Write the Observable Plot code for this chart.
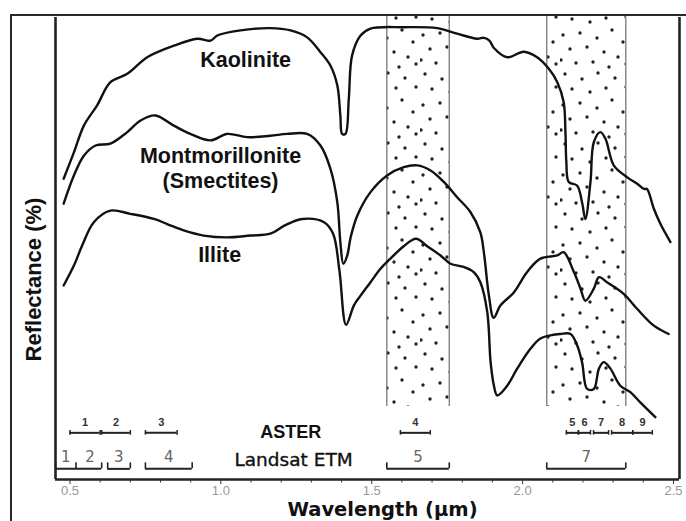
<!DOCTYPE html>
<html><head><meta charset="utf-8">
<script src="https://cdn.jsdelivr.net/npm/d3@7"></script>
<script src="https://cdn.jsdelivr.net/npm/@observablehq/plot@0.6"></script>
<style>
body{margin:0;background:#fff}
#wrap{position:relative;width:686px;height:521px;overflow:hidden;background:#fff}
#chart{position:absolute;left:0;top:0}
#frame{position:absolute;left:10px;top:14px;width:720px;height:600px;border-left:2.5px solid #2a2a2a;border-top:2.5px solid #2a2a2a;box-sizing:border-box;pointer-events:none}
</style></head><body>
<div id="wrap"><div id="chart"></div><div id="frame"></div></div>
<script>
// [wavelength (µm), reflectance (relative %)]
const kaolinite = [
[0.479,65.1],[0.513,70.8],[0.546,76.6],[0.590,81.0],[0.634,86.0],[0.690,87.8],[0.756,91.4],
[0.844,93.9],[0.922,95.4],[0.966,95.0],[0.988,96.1],[1.065,97.2],[1.164,97.7],[1.231,97.2],
[1.286,95.7],[1.330,92.5],[1.363,89.6],[1.386,85.3],[1.396,78.8],[1.402,74.8],[1.413,74.8],
[1.424,82.4],[1.435,91.8],[1.463,96.1],[1.496,97.6],[1.606,97.9],[1.717,97.7],[1.783,96.5],
[1.849,95.4],[1.872,95.6],[1.890,95.0],[1.905,93.4],[1.949,91.4],[2.004,92.6],[2.048,91.4],[2.087,88.9],
[2.115,86.0],[2.136,81.7],[2.142,75.2],[2.145,68.7],[2.153,64.4],[2.181,63.6],[2.197,60.0],
[2.208,56.4],[2.225,64.4],[2.236,73.0],[2.258,75.2],[2.275,73.7],[2.302,68.0],[2.347,65.4],
[2.380,64.0],[2.402,62.9],[2.412,62.9],[2.435,58.6],[2.457,55.3],[2.490,51.4]
];
const montmorillonite = [
[0.479,59.7],[0.513,65.8],[0.546,70.1],[0.585,72.3],[0.634,72.7],[0.690,75.2],[0.734,77.7],
[0.783,78.8],[0.844,76.6],[0.899,74.8],[0.966,73.4],[1.021,74.8],[1.087,74.1],[1.164,74.4],
[1.220,74.8],[1.286,74.8],[1.330,72.3],[1.363,67.3],[1.386,60.0],[1.396,51.4],[1.406,46.7],
[1.419,48.5],[1.430,52.4],[1.452,57.1],[1.496,62.2],[1.551,65.8],[1.606,67.6],[1.651,68.0],
[1.695,66.9],[1.739,64.4],[1.783,61.1],[1.827,57.9],[1.860,53.5],[1.872,49.0],[1.888,40.0],
[1.904,35.0],[1.927,37.7],[1.971,40.5],[2.015,44.9],[2.059,47.8],[2.115,48.5],[2.136,49.2],
[2.170,44.9],[2.192,41.3],[2.208,38.7],[2.236,41.3],[2.253,43.8],[2.280,42.7],[2.335,40.2],
[2.380,36.9],[2.435,33.3],[2.484,31.5]
];
const illite = [
[0.479,42.0],[0.513,46.3],[0.540,50.6],[0.579,55.7],[0.634,58.2],[0.700,57.5],[0.778,56.4],
[0.822,55.3],[0.877,53.9],[0.943,52.8],[1.021,52.4],[1.098,52.8],[1.164,53.2],[1.212,55.0],
[1.270,56.4],[1.342,55.7],[1.372,53.2],[1.393,45.2],[1.415,33.5],[1.441,37.7],[1.463,39.8],
[1.496,42.7],[1.529,45.6],[1.562,47.8],[1.606,50.5],[1.647,52.1],[1.684,50.5],[1.728,48.5],
[1.761,46.7],[1.805,46.0],[1.838,44.9],[1.860,42.7],[1.883,36.2],[1.894,25.4],[1.905,20.3],
[1.916,18.2],[1.949,20.3],[1.982,24.0],[2.026,28.3],[2.059,30.5],[2.092,31.2],[2.125,31.5],
[2.159,31.5],[2.181,29.0],[2.197,25.4],[2.214,19.6],[2.236,19.6],[2.253,24.0],[2.269,25.4],
[2.291,24.0],[2.324,20.3],[2.357,18.9],[2.390,16.7],[2.440,13.5]
];
const curveLabels = [
  {text:"Kaolinite", wl:1.082, r:90.7},
  {text:"Montmorillonite", wl:0.999, r:70.1},
  {text:"(Smectites)", wl:0.999, r:64.5},
  {text:"Illite", wl:0.996, r:48.5}
];
// stippled windows (Landsat bands 5 and 7)
const windows = [{lo:1.55, hi:1.757},{lo:2.08, hi:2.342}];
const asterBands = [
  {b:"1",lo:0.50,hi:0.60},{b:"2",lo:0.605,hi:0.70},{b:"3",lo:0.75,hi:0.855},{b:"4",lo:1.595,hi:1.694},
  {b:"5",lo:2.145,hi:2.185},{b:"6",lo:2.185,hi:2.225},{b:"7",lo:2.235,hi:2.285},{b:"8",lo:2.295,hi:2.365},{b:"9",lo:2.365,hi:2.43}
];
const landsatBrackets = [
  {lo:0.452,hi:0.605},{lo:0.625,hi:0.70},{lo:0.75,hi:0.905},{lo:1.55,hi:1.757},{lo:2.08,hi:2.342}
];
const landsatTicks = [0.452,0.52,0.605,0.625,0.70,0.75,0.905,1.55,1.757,2.08,2.342];
const landsatLabels = [
  {b:"1",wl:0.486},{b:"2",wl:0.566},{b:"3",wl:0.662},{b:"4",wl:0.827},{b:"5",wl:1.653},{b:"7",wl:2.211}
];
const sensorLabels = [{text:"ASTER", wl:1.232, r:10.2, bold:true},{text:"Landsat ETM", wl:1.241, r:4.1, bold:false}];
const majorTicks = [0.5,1.0,1.5,2.0,2.5];
const minorTicks = [0.6,0.7,0.8,0.9,1.1,1.2,1.3,1.4,1.6,1.7,1.8,1.9,2.1,2.2,2.3,2.4];
const stippleDots = [[5,4],[22,9],[38,3],[55,8],[66,17],[12,19],[30,22],[46,18],[3,35],[20,33],[37,38],[52,30],
  [63,42],[10,49],[27,47],[44,52],[58,57],[16,63],[33,62],[49,67],[66,64],[1,60]];

const curves = [["Kaolinite",kaolinite],["Montmorillonite",montmorillonite],["Illite",illite]];
const lineData = curves.flatMap(([name,pts]) => pts.map(([wl,r]) => ({mineral:name, wl, r})));

const X0 = 0.452, X1 = 2.52;
const SANS = "'Liberation Sans', Arial, sans-serif";
const plot = Plot.plot({
  width:686, height:521, marginLeft:55, marginRight:7, marginTop:17, marginBottom:42,
  x:{domain:[X0,X1], label:null},
  y:{domain:[0,100], axis:null},
  style:{fontFamily:SANS, background:"transparent", overflow:"visible", color:"#111"},
  marks:[
    Plot.rect(windows, {x1:"lo", x2:"hi", y1:()=>15.8, y2:()=>100.4, fill:"url(#stipple)"}),
    Plot.ruleX(windows.flatMap(d=>[d.lo,d.hi]), {x:d=>d, y1:()=>15.8, y2:()=>100.4, stroke:"#777", strokeWidth:1.3}),
    Plot.line(lineData, {x:"wl", y:"r", z:"mineral", stroke:"#111", strokeWidth:2.4, curve:"catmull-rom"}),
    Plot.text(curveLabels, {x:"wl", y:"r", text:"text", fontSize:21.5, fontWeight:"bold", fill:"#111"}),
    // ASTER row
    Plot.ruleY(asterBands, {x1:"lo", x2:"hi", y:()=>10.1, stroke:"#222", strokeWidth:2}),
    Plot.ruleX(asterBands.flatMap(d=>[d.lo,d.hi]), {x:d=>d, y1:()=>9.6, y2:()=>10.6, stroke:"#222", strokeWidth:1.5}),
    Plot.text(asterBands, {x:d=>(d.lo+d.hi)/2, y:()=>12.4, text:"b", fontSize:11, fontWeight:"bold", fill:"#333"}),
    // Landsat row
    Plot.ruleY(landsatBrackets, {x1:"lo", x2:"hi", y:()=>2.3, stroke:"#222", strokeWidth:2}),
    Plot.ruleX(landsatTicks, {x:d=>d, y1:()=>2.3, y2:()=>3.6, stroke:"#222", strokeWidth:1.6}),
    Plot.text(landsatLabels, {x:"wl", y:()=>4.9, text:"b", fontSize:15, fill:"#666", fontFamily:"DejaVu Sans"}),
    Plot.text(sensorLabels.filter(d=>d.bold), {x:"wl", y:"r", text:"text", fontSize:18, fontWeight:"bold", fill:"#111"}),
    Plot.text(sensorLabels.filter(d=>!d.bold), {x:"wl", y:"r", text:"text", fontSize:18.5, fill:"#111", stroke:"#111", strokeWidth:0.35, fontFamily:"DejaVu Sans"}),
    // axes frame
    Plot.ruleX([X0, X1], {x:d=>d, y1:()=>0, y2:()=>100, stroke:"#222", strokeWidth:2.6}),
    Plot.ruleY([0], {y:d=>d, x1:()=>X0, x2:()=>X1, stroke:"#222", strokeWidth:2.6}),
    Plot.axisX(majorTicks, {tickSize:5, tickPadding:1, tickFormat:d3.format(".1f"), stroke:"#333", fill:"#999", fontSize:13, label:null}),
    Plot.axisX(minorTicks, {tickSize:3.5, tickFormat:()=>"", stroke:"#333", label:null}),
    Plot.text(["Wavelength (µm)"], {text:d=>d, frameAnchor:"bottom", textAnchor:"middle", lineAnchor:"middle", dx:15, dy:30.5, fontSize:19.5, fontWeight:"bold", fill:"#111", fontFamily:"DejaVu Sans"}),
    Plot.text(["Reflectance (%)"], {text:d=>d, frameAnchor:"left", textAnchor:"middle", lineAnchor:"middle", rotate:-90, dx:-22, dy:31, fontSize:22, fontWeight:"bold", fill:"#111"})
  ]
});
const svg = d3.select(plot);
const pat = svg.insert("defs", ":first-child").append("pattern")
  .attr("id","stipple").attr("patternUnits","userSpaceOnUse").attr("width",70).attr("height",70);
stippleDots.forEach(([cx,cy]) => pat.append("circle").attr("cx",cx).attr("cy",cy).attr("r",1.7).attr("fill","#222"));
document.getElementById("chart").appendChild(plot);
</script>
</body></html>
